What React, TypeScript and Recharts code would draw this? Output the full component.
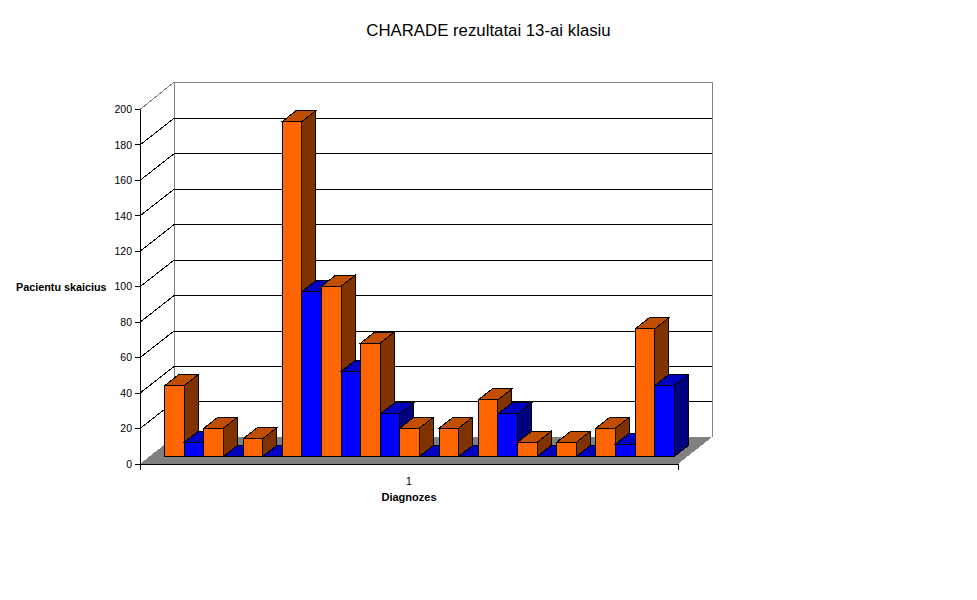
import React from 'react';
import { BarChart, Bar, XAxis, YAxis, CartesianGrid } from 'recharts';

const categories = ['1'];
const orangeValues = [40, 16, 10, 189, 96, 64, 16, 16, 32, 8, 8, 16, 72];
const blueValues = [8, 0, 0, 93, 48, 24, 0, 0, 24, 0, 0, 7, 40];
const yTicks = [0, 20, 40, 60, 80, 100, 120, 140, 160, 180, 200];

const ORANGE = '#FF6600';
const BLUE = '#0000FF';
const shades: Record<string, { top: string; side: string }> = {
  [ORANGE]: { top: '#C04D00', side: '#803300' },
  [BLUE]: { top: '#0000C0', side: '#000080' },
};

const row: Record<string, string | number> = { category: categories[0] };
const series: { key: string; fill: string }[] = [];
orangeValues.forEach((v, i) => {
  row[`o${i}`] = v;
  row[`b${i}`] = blueValues[i];
  series.push({ key: `o${i}`, fill: ORANGE });
  series.push({ key: `b${i}`, fill: BLUE });
});
const data = [row];

const FONT = '"Liberation Sans", Arial, sans-serif';
const WALL_DX = 34;
const WALL_DY = 26.6;
const BAR_DX = 10.7;
const BAR_DY = 7.5;
const DEPTH_DX = 14;
const DEPTH_DY = 11;

function Bar3D(props: any) {
  const { x, y, width, height, fill } = props;
  const s = shades[fill];
  const l = x + BAR_DX;
  const r = l + width;
  const t = y - BAR_DY;
  const b = t + height;
  const stroke = { stroke: '#000', strokeWidth: 1, shapeRendering: 'crispEdges' as const };
  return (
    <g>
      <polygon
        points={`${l},${t} ${l + DEPTH_DX},${t - DEPTH_DY} ${r + DEPTH_DX},${t - DEPTH_DY} ${r},${t}`}
        fill={s.top}
        {...stroke}
      />
      <polygon
        points={`${r},${t} ${r + DEPTH_DX},${t - DEPTH_DY} ${r + DEPTH_DX},${b - DEPTH_DY} ${r},${b}`}
        fill={s.side}
        {...stroke}
      />
      {height > 0 && <rect x={l} y={t} width={width} height={height} fill={fill} {...stroke} />}
    </g>
  );
}

function gridLine(props: any) {
  const { x1, x2, y1 } = props;
  const y = y1;
  const bx1 = x1 + WALL_DX;
  const bx2 = x2 + WALL_DX;
  const isTop = Math.abs(y - 109.5) < 1;
  const by = isTop ? y - 27.3 : y - WALL_DY;
  const crisp = { shapeRendering: 'crispEdges' as const, strokeWidth: 1 };
  if (Math.abs(y - 464) < 1) {
    const fy = y - 27;
    return (
      <g key={props.key}>
        <polygon points={`${x1},${y} ${x2},${y} ${bx2},${fy} ${bx1},${fy}`} fill="#808080" {...crisp} />
        <line x1={x1} x2={x1} y1={y} y2={y + 6} stroke="#000" {...crisp} />
        <line x1={x2} x2={x2} y1={y} y2={y + 6} stroke="#000" {...crisp} />
        <line x1={bx1} x2={bx1} y1={fy} y2={fy - 355} stroke="#808080" {...crisp} />
        <line x1={bx2} x2={bx2} y1={fy} y2={fy - 355} stroke="#808080" {...crisp} />
      </g>
    );
  }
  const c = isTop ? '#808080' : '#000';
  return (
    <g key={props.key}>
      <line x1={x1} y1={y} x2={bx1} y2={by} stroke={c} {...crisp} />
      <line x1={bx1} y1={by} x2={bx2} y2={by} stroke={c} {...crisp} />
    </g>
  );
}

export default function App() {
  return (
    <div style={{ position: 'absolute', left: 0, top: 0, width: 977, height: 600, background: '#fff' }}>
      <BarChart
        width={977}
        height={600}
        data={data}
        margin={{ top: 109.5, right: 299, bottom: 0, left: 0 }}
        barGap={0}
      >
        <text x={488.5} y={36} textAnchor="middle" fontFamily={FONT} fontSize={16.8} fill="#000">
          CHARADE rezultatai 13-ai klasiu
        </text>
        <CartesianGrid horizontal={gridLine} vertical={false} />
        <XAxis
          dataKey="category"
          height={136}
          tickLine={false}
          axisLine={{ stroke: '#000', strokeWidth: 1, shapeRendering: 'crispEdges' }}
          tick={{ fontFamily: FONT, fontSize: 10.5, fill: '#000' }}
          tickMargin={8}
          label={{
            value: 'Diagnozes',
            position: 'insideTop',
            dy: 24,
            style: { fontFamily: FONT, fontSize: 11, fontWeight: 'bold', fill: '#000' },
          }}
        />
        <YAxis
          width={140}
          domain={[0, 200]}
          ticks={yTicks}
          interval={0}
          tickSize={5}
          tickMargin={3}
          tickLine={{ stroke: '#000', shapeRendering: 'crispEdges' }}
          axisLine={{ stroke: '#000', strokeWidth: 1, shapeRendering: 'crispEdges' }}
          tick={{ fontFamily: FONT, fontSize: 10.5, fill: '#000' }}
          label={{
            value: 'Pacientu skaicius',
            position: 'insideLeft',
            dx: 11,
            style: { fontFamily: FONT, fontSize: 10.8, fontWeight: 'bold', fill: '#000', textAnchor: 'start' },
          }}
        />
        {series.map((s) => (
          <Bar
            key={s.key}
            dataKey={s.key}
            fill={s.fill}
            barSize={19.6}
            shape={Bar3D}
            isAnimationActive={false}
          />
        ))}
      </BarChart>
    </div>
  );
}
